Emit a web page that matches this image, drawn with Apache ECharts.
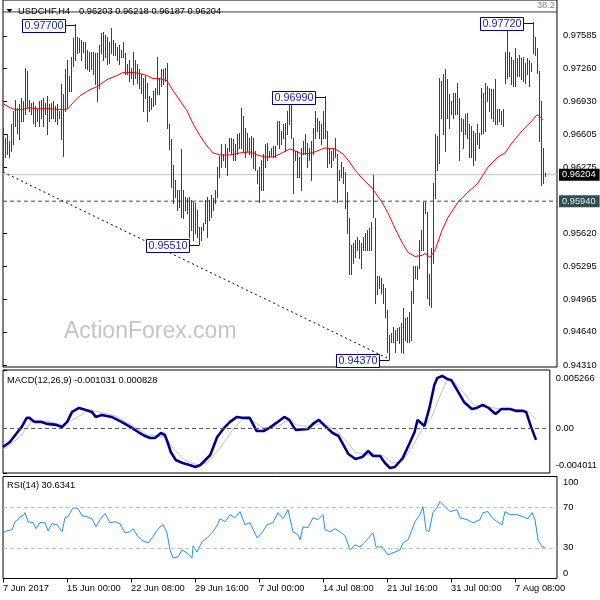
<!DOCTYPE html>
<html><head><meta charset="utf-8">
<script src="https://cdn.jsdelivr.net/npm/echarts@6/dist/echarts.min.js"></script>
<style>html,body{margin:0;padding:0;background:#fff}#c{width:600px;height:600px}</style>
</head><body><div id="c"></div>
<script>
// ---- data ----
const xLabels=["7 Jun 2017","15 Jun 00:00","22 Jun 08:00","29 Jun 16:00","7 Jul 00:00","14 Jul 08:00","21 Jul 16:00","31 Jul 00:00","7 Aug 08:00"];
const xLabelPos=[0,32,64,96,128,160,192,224,256];
const priceTicks=[0.94310,0.94640,0.94965,0.95295,0.95620,0.96275,0.96605,0.96930,0.97260,0.97585];
const macdTicks=[-0.004011,0,0.005266];
const rsiTicks=[0,30,70,100];
const symbolName="USDCHF,H4";
const lastOHLC=[0.96203,0.96218,0.96187,0.96204];
const lastPrice=0.96204, supportLevel=0.95940, fibLevel=0.97823, fibText="38.2";
const macdHeader="MACD(12,26,9)", macdNow=[-0.001031,0.000828];
const rsiHeader="RSI(14)", rsiNow=30.6341;
const watermark="ActionForex.com";

const highs=[0.9667,0.9657,0.9661,0.9654,0.9671,0.9684,0.9695,0.9687,0.9691,0.9697,
0.9694,0.9727,0.9724,0.9695,0.9692,0.9693,0.9689,0.9687,0.9694,0.9695,
0.9697,0.9692,0.9699,0.9691,0.9692,0.9694,0.9689,0.9691,0.9684,0.9711,
0.9701,0.9726,0.9734,0.9719,0.9737,0.9756,0.9770,0.9757,0.9756,0.9754,
0.9752,0.9752,0.9744,0.9742,0.9742,0.9742,0.9741,0.9741,0.9749,0.9761,
0.9762,0.9759,0.9757,0.9752,0.9766,0.9754,0.9751,0.9747,0.9749,0.9744,
0.9752,0.9741,0.9731,0.9734,0.9727,0.9742,0.9734,0.9731,0.9726,0.9721,
0.9717,0.9719,0.9712,0.9699,0.9697,0.9704,0.9707,0.9737,0.9717,0.9726,
0.9726,0.9727,0.9732,0.9671,0.9656,0.9630,0.9615,0.9605,0.9605,0.9646,
0.9605,0.9598,0.9597,0.9598,0.9595,0.9593,0.9592,0.9585,0.9568,0.9568,
0.9572,0.9595,0.9598,0.9595,0.9600,0.9597,0.9605,0.9628,0.9639,0.9651,
0.9641,0.9651,0.9647,0.9657,0.9657,0.9656,0.9651,0.9661,0.9662,0.9687,
0.9679,0.9667,0.9662,0.9657,0.9659,0.9657,0.9644,0.9625,0.9628,0.9635,
0.9641,0.9651,0.9652,0.9644,0.9647,0.9649,0.9649,0.9674,0.9674,0.9664,
0.9671,0.9672,0.9684,0.9694,0.9694,0.9657,0.9644,0.9644,0.9638,0.9647,
0.9654,0.9661,0.9652,0.9647,0.9654,0.9667,0.9684,0.9677,0.9674,0.9671,
0.9684,0.9699,0.9664,0.9647,0.9644,0.9647,0.9657,0.9641,0.9625,0.9633,
0.9628,0.9623,0.9603,0.9577,0.9550,0.9552,0.9555,0.9558,0.9555,0.9552,
0.9558,0.9562,0.9565,0.9567,0.9573,0.9620,0.9577,0.9520,0.9520,0.9518,
0.9512,0.9508,0.9486,0.9461,0.9463,0.9469,0.9466,0.9468,0.9469,0.9473,
0.9488,0.9478,0.9479,0.9484,0.9505,0.9530,0.9530,0.9530,0.9555,0.9565,
0.9593,0.9593,0.9583,0.9522,0.9547,0.9612,0.9661,0.9659,0.9717,0.9714,
0.9721,0.9726,0.9716,0.9701,0.9694,0.9702,0.9702,0.9712,0.9697,0.9677,
0.9676,0.9681,0.9682,0.9671,0.9669,0.9664,0.9662,0.9671,0.9662,0.9707,
0.9702,0.9712,0.9709,0.9707,0.9706,0.9706,0.9716,0.9686,0.9686,0.9684,
0.9686,0.9742,0.9764,0.9742,0.9737,0.9734,0.9746,0.9736,0.9739,0.9736,
0.9737,0.9732,0.9736,0.9734,0.9732,0.9772,0.9757,0.9746,0.9724,0.9694,
0.9647,0.96218];
const lows=[0.9623,0.9638,0.9641,0.9638,0.9644,0.9651,0.9669,0.9662,0.9656,0.9674,
0.9674,0.9681,0.9687,0.9684,0.9681,0.9672,0.9669,0.9674,0.9669,0.9677,
0.9669,0.9681,0.9661,0.9674,0.9677,0.9677,0.9674,0.9671,0.9677,0.9656,
0.9639,0.9684,0.9687,0.9704,0.9704,0.9729,0.9734,0.9741,0.9742,0.9734,
0.9742,0.9727,0.9726,0.9724,0.9726,0.9721,0.9711,0.9694,0.9707,0.9741,
0.9734,0.9737,0.9731,0.9732,0.9741,0.9739,0.9739,0.9734,0.9731,0.9737,
0.9737,0.9721,0.9721,0.9714,0.9717,0.9711,0.9717,0.9712,0.9707,0.9702,
0.9684,0.9697,0.9674,0.9684,0.9686,0.9689,0.9691,0.9701,0.9701,0.9709,
0.9711,0.9714,0.9667,0.9646,0.9608,0.9592,0.9598,0.9585,0.9588,0.9578,
0.9577,0.9585,0.9582,0.9558,0.9565,0.9555,0.9562,0.9558,0.9551,0.9555,
0.9565,0.9572,0.9558,0.9575,0.9578,0.9585,0.9592,0.9598,0.9618,0.9628,
0.9635,0.9628,0.9620,0.9644,0.9641,0.9635,0.9635,0.9641,0.9647,0.9647,
0.9644,0.9638,0.9644,0.9641,0.9638,0.9627,0.9625,0.9612,0.9593,0.9605,
0.9605,0.9628,0.9635,0.9638,0.9639,0.9638,0.9638,0.9651,0.9647,0.9651,
0.9657,0.9644,0.9661,0.9671,0.9657,0.9602,0.9635,0.9618,0.9618,0.9605,
0.9641,0.9641,0.9628,0.9635,0.9615,0.9641,0.9657,0.9664,0.9657,0.9651,
0.9657,0.9657,0.9628,0.9632,0.9628,0.9635,0.9638,0.9593,0.9615,0.9618,
0.9612,0.9587,0.9562,0.9522,0.9522,0.9532,0.9538,0.9545,0.9537,0.9528,
0.9545,0.9545,0.9545,0.9545,0.9545,0.9578,0.9493,0.9502,0.9508,0.9503,
0.9493,0.9479,0.9444,0.9437,0.9454,0.9454,0.9444,0.9456,0.9453,0.9444,
0.9443,0.9456,0.9454,0.9454,0.9456,0.9493,0.9518,0.9517,0.9528,0.9545,
0.9545,0.9582,0.9498,0.9491,0.9489,0.9532,0.9597,0.9625,0.9632,0.9677,
0.9661,0.9644,0.9677,0.9667,0.9681,0.9677,0.9681,0.9681,0.9635,0.9664,
0.9647,0.9661,0.9657,0.9638,0.9638,0.9630,0.9635,0.9651,0.9647,0.9661,
0.9662,0.9664,0.9694,0.9684,0.9677,0.9674,0.9671,0.9671,0.9674,0.9671,
0.9669,0.9712,0.9717,0.9719,0.9711,0.9709,0.9709,0.9719,0.9719,0.9716,
0.9714,0.9712,0.9721,0.9709,0.9724,0.9741,0.9739,0.9722,0.9654,0.9610,
0.9612,0.96187];

const maIdx=[0,3.5,6,8.5,13.5,17,23.5,30,32.5,35,38.5,43.5,47,52,57,60,65,68.5,72,75,78.5,82,85,88.5,92,95,98.5,102,105,108.5,113.5,118.5,123.5,127,131,135,138.5,143.5,146,149.5,154.5,161,166,170,172.5,176,179.5,184.5,189.5,192.5,196,199.5,202.5,206,209.5,211,213.5,216,219.5,222.5,227.5,232.5,237.5,242.5,247.5,251,254.5,259.5,264.5,267,268.5,270];
const maVal=[0.9691,0.9687,0.9685,0.9685,0.9687,0.9686,0.9686,0.9685,0.9686,0.9692,0.9699,0.9705,0.9708,0.9715,0.9719,0.9722,0.9722,0.9721,0.9719,0.9716,0.9716,0.9714,0.9704,0.9694,0.9684,0.9671,0.9659,0.9649,0.9642,0.9640,0.9640,0.9642,0.9643,0.9640,0.9638,0.9638,0.9641,0.9646,0.9644,0.9641,0.9642,0.9647,0.9646,0.9641,0.9635,0.9625,0.9617,0.9607,0.9593,0.9582,0.9567,0.9553,0.9543,0.9539,0.9540,0.9542,0.9538,0.9545,0.9565,0.9578,0.9593,0.9603,0.9612,0.9628,0.9638,0.9642,0.9652,0.9664,0.9674,0.9680,0.9678,0.9675];

const peakIdx=[36,98,161,193,265];
const peakVal=[0.97700,0.95510,0.96990,0.94370,0.97720];
const trendIdx=[0,192];
const trendVal=[0.9623,0.9438];
const levelSpan=[0,277];

const macdIdx=[0,3.5,7,9.5,12,13.5,16,19.5,22.5,27,30,32.5,35,38.5,42,45,47,50,55,60,64.5,68.5,72,74.5,77,80,82,83.5,85,87.5,91,94.5,97.5,100,102.5,105,108.5,112,115,118.5,122,125,128.5,132,135,138.5,142.5,145,147.5,148.5,154.5,157,160,162.5,167,170,172.5,175,178.5,182,185,187.5,191,193.5,196,198.5,202.5,206,208.5,210,213.5,216,218.5,220,222.5,225,227,230,233.5,237.5,240,243,246,249.5,252.5,257,260,263.5,265,267.5,270];
const macdVal=[-0.00167,-0.00122,-0.00041,0.00014,0.00095,0.00095,0.00059,0.00059,0.00041,0.00032,0.00014,0.00059,0.00149,0.00185,0.00167,0.00149,0.00104,0.00122,0.00104,0.00059,0.00014,-0.00032,-0.00068,-0.00086,-0.00086,-0.00041,-0.00059,-0.00131,-0.00212,-0.00284,-0.00311,-0.00329,-0.00347,-0.00329,-0.00284,-0.00239,-0.00077,0.00005,0.00059,0.00104,0.00095,0.00095,-0.00023,-0.00023,0.00005,0.00050,0.00104,0.00077,0.00005,-0.00014,-0.00005,0.00041,0.00077,0.00032,-0.00041,-0.00068,-0.00149,-0.00230,-0.00275,-0.00257,-0.00203,-0.00248,-0.00248,-0.00311,-0.00356,-0.00347,-0.00266,-0.00131,-0.00032,0.00077,0.00023,0.00185,0.00392,0.00455,0.00473,0.00446,0.00437,0.00347,0.00239,0.00176,0.00185,0.00212,0.00185,0.00131,0.00176,0.00176,0.00158,0.00158,0.00149,0.00014,-0.00103];
const sigIdx=[0,8.5,14.5,22,30,37,43.5,48.5,57,65,73.5,82,87,92,98.5,103.5,110,117,122,127,132,138.5,145,148.5,155,162,168.5,173.5,178.5,183.5,192,197,202,207,212,217,222,225,228.5,233.5,238.5,243.5,248.5,255,262,266,270];
const sigVal=[-0.00194,-0.00077,0.00059,0.00068,0.00032,0.00095,0.00167,0.00149,0.00113,0.00032,-0.00059,-0.00077,-0.00194,-0.00284,-0.00329,-0.00311,-0.00176,0.00005,0.00095,0.00059,0.00005,0.00014,0.00077,0.00032,0.00014,0.00050,-0.00014,-0.00104,-0.00212,-0.00239,-0.00239,-0.00311,-0.00302,-0.00176,-0.00014,0.00095,0.00320,0.00437,0.00419,0.00320,0.00212,0.00194,0.00185,0.00167,0.00167,0.00149,0.00083];

const rsiIdx=[0,2,4.5,6,7.5,8.5,10,11,12.5,15,16.5,18.5,21,22.5,24.5,27,29.5,31,32.5,35,37.5,39.5,42,44.5,46.5,48.5,51,53.5,56,58.5,61,63.5,65,67.5,70,72.5,75,76.5,78.5,80,82,83.5,85,87.5,89.5,92,94.5,95,97,99.5,102,104.5,107,108.5,111,113.5,116,118.5,121,123.5,127,129.5,132,135,137.5,140,142.5,145,147.5,148.5,150,152.5,155,157.5,160,161,163.5,166,168.5,171,173.5,176,178.5,182,185,186.5,189.5,192.5,196,198.5,200,202.5,204.5,206,208.5,210,211.5,213,215,217,218.5,221,223.5,227,228.5,232,235,238.5,240,242.5,244.5,247,249.5,251,253.5,257,260,262.5,264.5,266,267.5,269.5,271];
const rsiVal=[44.8,46.8,47.8,55.7,57.7,60.6,61.6,64.6,55.7,54.7,48.8,54.7,54.7,46.8,53.7,52.7,45.8,59.6,60.6,69.5,68.5,61.6,60.6,58.6,50.7,57.7,63.6,54.7,55.7,53.7,44.8,45.8,48.8,40.9,36.9,34.9,40.9,45.8,50.7,52.7,44.8,28.0,20.1,21.1,28.0,25.1,20.1,32.0,26.0,35.9,39.9,44.8,51.7,58.6,55.7,62.6,59.6,65.6,52.7,54.7,39.9,44.8,52.7,54.7,64.6,58.6,67.5,45.8,42.8,37.9,50.7,49.8,59.6,57.7,62.6,47.8,45.8,48.8,45.8,41.9,28.0,33.0,31.0,37.9,44.8,31.0,31.0,23.1,26.0,28.0,34.9,37.9,47.8,55.7,62.6,70.5,47.8,45.8,64.6,69.5,75.4,70.5,65.6,67.5,59.6,57.7,54.7,57.7,64.6,65.6,59.6,55.7,52.7,65.6,62.6,62.6,60.6,58.6,64.6,57.7,37.9,31.0,30.6];

// ---- drawing ----
const FONT='"Liberation Sans", Arial, sans-serif';
const FS=9.3;
const BAR='#1b4866';
const pair=(a,b)=>a.map((x,k)=>[x,b[k]]);
const barData=highs.map((h,i)=>[i,h,lows[i]]);
const txt={fontSize:FS,fontFamily:FONT,color:'#000'};
const level=(v)=>levelSpan.map(x=>[x,v]);

function hLine(v,color,type,label){
  const s={type:'line',xAxisIndex:0,yAxisIndex:0,data:level(v),showSymbol:false,symbol:'none',silent:true,z:2,
    lineStyle:{color:color,width:1,type:type}};
  if(label){
    s.endLabel={show:true,formatter:v.toFixed(5),distance:2,backgroundColor:label.bg,color:label.fg,
      padding:[2,4,1,3],fontSize:FS,fontFamily:FONT};
  }
  return s;
}

const chart=echarts.init(document.getElementById('c'),null,{renderer:'canvas'});
const option={
  animation:false,
  backgroundColor:'#fff',
  grid:[
    {left:3,right:43,top:-1,height:368,show:true,borderColor:'#000',borderWidth:1,backgroundColor:'#fff'},
    {left:3,right:43,top:370,height:103,show:true,borderColor:'#000',borderWidth:1},
    {left:3,right:43,top:476.5,height:102,show:true,borderColor:'#000',borderWidth:1}
  ],
  xAxis:[0,1,2].map(g=>({
    type:'value',gridIndex:g,min:0,max:277,show:g===2,
    splitLine:{show:false},axisLine:{show:false},
    axisTick:{show:g===2,length:4,customValues:xLabelPos,lineStyle:{color:'#000'}},
    axisLabel:{show:g===2,customValues:xLabelPos,formatter:v=>xLabels[xLabelPos.indexOf(v)],align:'left',margin:5,...txt}
  })),
  yAxis:[
    {type:'value',gridIndex:0,position:'right',min:0.9429,max:0.97942,
     splitLine:{show:false},axisLine:{show:false},
     axisTick:{show:true,length:4,customValues:priceTicks,lineStyle:{color:'#000'}},
     axisLabel:{customValues:priceTicks,formatter:v=>v.toFixed(5),margin:6,...txt}},
    {type:'value',gridIndex:1,position:'right',min:macdTicks[0],max:macdTicks[2],
     splitLine:{show:false},axisLine:{show:false},
     axisTick:{show:true,length:4,customValues:macdTicks,lineStyle:{color:'#000'}},
     axisLabel:{customValues:macdTicks,margin:6,...txt,
       formatter:v=>v===macdTicks[2]?'{t|'+v.toFixed(6)+'}':(v===macdTicks[0]?'{b|'+v.toFixed(6)+'}':'{m|0.00}'),
       rich:{t:{...txt,padding:[16,0,0,0]},b:{...txt,padding:[0,0,16,0]},m:{...txt}}}},
    {type:'value',gridIndex:2,position:'right',min:0,max:100,
     splitLine:{show:false},axisLine:{show:false},
     axisTick:{show:true,length:4,customValues:rsiTicks,lineStyle:{color:'#000'}},
     axisLabel:{customValues:rsiTicks,margin:6,...txt,
       formatter:v=>v===100?'{t|100}':(v===0?'{b|0}':'{m|'+v+'}'),
       rich:{t:{...txt,padding:[12,0,0,0]},b:{...txt,padding:[0,0,10,0]},m:{...txt}}}}
  ],
  series:[
    hLine(fibLevel,'#3a3a3a','solid',null),
    hLine(lastPrice,'#c0c0c0','solid',{bg:'#000',fg:'#fff'}),
    hLine(supportLevel,'#2f4f4f',[4,3],{bg:'#2f4f4f',fg:'#e8e8e8'}),
    {type:'line',xAxisIndex:0,yAxisIndex:0,data:pair(trendIdx,trendVal),showSymbol:false,symbol:'none',silent:true,z:2,
     lineStyle:{color:'#000',width:1,type:[2,3]}},
    {type:'custom',xAxisIndex:0,yAxisIndex:0,data:barData,encode:{x:0,y:[1,2]},z:3,clip:true,
     renderItem:(params,api)=>{
       const i=api.value(0);
       const a=api.coord([i,api.value(1)]), b=api.coord([i,api.value(2)]);
       const x=Math.round(a[0])+0.5;
       return {type:'line',shape:{x1:x,y1:Math.round(a[1]),x2:x,y2:Math.round(b[1])+1},style:{stroke:BAR,lineWidth:1}};
     }},
    {type:'line',xAxisIndex:0,yAxisIndex:0,data:pair(maIdx,maVal),showSymbol:false,symbol:'none',z:4,
     lineStyle:{color:'#ff0000',width:1},silent:true},
    {type:'custom',xAxisIndex:0,yAxisIndex:0,data:pair(peakIdx,peakVal),encode:{x:0,y:1},z:10,clip:false,
     renderItem:(params,api)=>{
       const v=api.value(1);
       const p=api.coord([api.value(0),v]);
       const px=Math.round(p[0]), yc=Math.round(p[1])+1;
       const xr=px-10, w=43, h=13;
       return {type:'group',children:[
         {type:'line',shape:{x1:xr,y1:yc+0.5,x2:px+0.5,y2:yc+0.5},style:{stroke:'#000080',lineWidth:1}},
         {type:'rect',shape:{x:xr-w+0.5,y:yc-6+0.5,width:w,height:h},style:{fill:'#fff',stroke:'#000080',lineWidth:1}},
         {type:'text',x:xr-w/2+0.5,y:yc+1,style:{text:v.toFixed(5),fill:'#1c1ca8',font:'10.8px '+FONT,align:'center',verticalAlign:'middle'}}
       ]};
     }},
    {type:'line',xAxisIndex:1,yAxisIndex:1,data:pair(sigIdx,sigVal),showSymbol:false,symbol:'none',z:3,
     lineStyle:{color:'#c0c0c0',width:1},silent:true,
     markLine:{silent:true,symbol:['none','none'],label:{show:false},
       data:[{yAxis:0,lineStyle:{color:'#5a5a5a',type:[4,3],width:1}}]}},
    {type:'line',xAxisIndex:1,yAxisIndex:1,data:pair(macdIdx,macdVal),showSymbol:false,symbol:'none',z:4,
     lineStyle:{color:'#00008b',width:2.6},silent:true},
    {type:'line',xAxisIndex:2,yAxisIndex:2,data:pair(rsiIdx,rsiVal),showSymbol:false,symbol:'none',z:4,
     lineStyle:{color:'#1e90ff',width:1},silent:true,
     markLine:{silent:true,symbol:['none','none'],label:{show:false},
       data:[{yAxis:70,lineStyle:{color:'#c0c0c0',type:[4,3],width:1}},{yAxis:30,lineStyle:{color:'#c0c0c0',type:[4,3],width:1}}]}}
  ],
  graphic:[
    {type:'text',x:64,y:332,z:1,silent:true,style:{text:watermark,font:'23px '+FONT,fill:'#c4c4c4',verticalAlign:'middle'}},
    {type:'polygon',z:20,silent:true,shape:{points:[[6.5,9],[12.5,9],[9.5,12.5]]},style:{fill:'#000'}},
    {type:'text',x:18,y:11,z:20,silent:true,style:{text:symbolName,font:FS+'px '+FONT,fill:'#000',verticalAlign:'middle'}},
    {type:'text',x:79,y:11,z:20,silent:true,style:{text:lastOHLC.map(v=>v.toFixed(5)).join(' '),font:FS+'px '+FONT,fill:'#000',verticalAlign:'middle'}},
    {type:'text',x:555,y:5,z:20,silent:true,style:{text:fibText,font:FS+'px '+FONT,fill:'#808080',align:'right',verticalAlign:'middle'}},
    {type:'text',x:7,y:380,z:20,silent:true,style:{text:macdHeader+' '+macdNow.map(v=>v.toFixed(6)).join(' '),font:FS+'px '+FONT,fill:'#000',verticalAlign:'middle'}},
    {type:'text',x:7,y:485,z:20,silent:true,style:{text:rsiHeader+' '+rsiNow.toFixed(4),font:FS+'px '+FONT,fill:'#000',verticalAlign:'middle'}}
  ]
};
chart.setOption(option);
</script>
</body></html>
